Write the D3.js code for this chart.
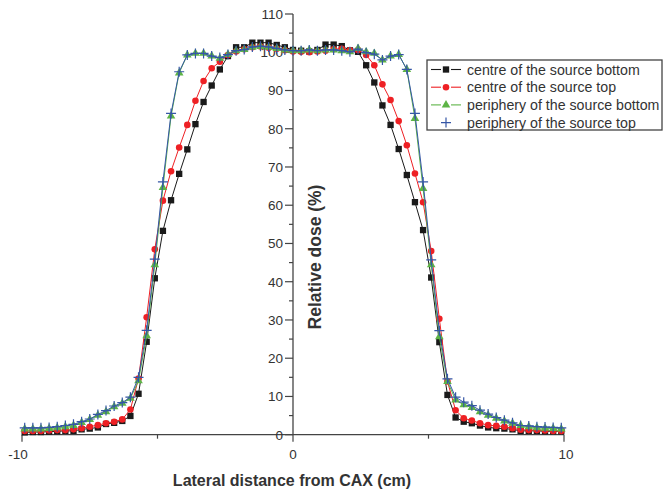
<!DOCTYPE html>
<html>
<head>
<meta charset="utf-8">
<script src="https://cdn.jsdelivr.net/npm/d3@7"></script>
<style>
  body { margin: 0; background: #fff; }
  text { font-family: "Liberation Sans", Arial, sans-serif; fill: #333; }
</style>
</head>
<body>
<script>
// lateral positions: every 0.3 cm from -9.9 to 9.9
const positions = d3.range(-33, 34).map(k => +(k * 0.3).toFixed(1));

const centreBottom = [
  0.6, 0.7, 0.7, 0.8, 0.9, 1.0, 1.0, 1.4, 1.6, 1.9, 2.8, 3.1, 3.6, 4.9, 10.7, 24.3, 40.9,
  53.3, 61.3, 68.2, 74.6, 81.2, 87.0, 91.3, 95.5, 99.0, 101.3, 101.3, 102.5, 102.5, 102.5, 101.9, 101.3,
  100.6,
  100.4, 100.2, 100.6, 102.0, 102.0, 101.6, 100.5, 100.1, 96.6, 92.1, 86.1, 81.0, 74.7, 67.9, 60.8, 53.5,
  41.1, 24.2, 10.4, 4.5, 3.4, 3.0, 2.4, 1.9, 1.7, 1.6, 1.4, 1.0, 1.0, 1.0, 0.9, 0.9, 0.9
];

const centreTop = [
  1.0, 1.0, 1.0, 1.1, 1.2, 1.2, 1.4, 1.7, 2.1, 2.5, 3.0, 3.4, 4.0, 6.6, 14.7, 30.7, 48.5,
  61.2, 68.9, 75.1, 81.0, 87.3, 92.5, 95.8, 97.5, 99.3, 100.2, 100.8, 101.3, 101.5, 101.2, 100.9, 100.5,
  100.2,
  100.1, 100.0, 100.2, 100.4, 100.8, 100.9, 100.5, 100.6, 99.3, 96.6, 91.6, 87.5, 82.0, 75.7, 68.3, 60.8,
  48.0, 30.3, 13.9, 6.4, 4.3, 3.7, 3.0, 2.5, 2.3, 2.1, 1.7, 1.3, 1.2, 1.2, 1.1, 1.0, 1.0
];

const peripheryBottom = [
  1.5, 1.5, 1.5, 1.6, 1.8, 2.1, 2.4, 3.2, 4.0, 5.1, 6.0, 7.3, 8.2, 9.5, 14.1, 25.9, 44.4,
  64.6, 83.3, 94.6, 99.3, 99.7, 99.7, 99.0, 98.4, 99.4, 100.4, 100.7, 101.3, 101.5, 101.3, 101.0, 100.6,
  100.4,
  100.4, 100.6, 100.4, 100.6, 100.6, 100.4, 100.1, 101.0, 100.1, 99.7, 98.0, 99.0, 99.4, 95.5, 82.7, 64.4,
  44.4, 25.6, 13.9, 9.1, 7.8, 7.1, 6.0, 5.1, 4.3, 3.6, 3.0, 2.4, 2.1, 1.8, 1.7, 1.6, 1.5
];

const peripheryTop = [
  1.8, 1.8, 1.8, 1.9, 2.1, 2.4, 2.7, 3.4, 4.1, 5.3, 6.3, 7.5, 8.4, 9.8, 15.0, 27.3, 45.9,
  66.1, 84.0, 94.9, 99.3, 99.7, 99.7, 99.0, 98.6, 99.4, 100.4, 100.7, 101.4, 101.6, 101.4, 101.0, 100.6,
  100.4,
  100.4, 100.6, 100.4, 100.6, 100.6, 100.4, 100.1, 100.8, 99.9, 99.5, 98.0, 99.0, 99.4, 95.5, 84.0, 66.1,
  45.7, 27.2, 14.6, 9.8, 8.5, 7.6, 6.4, 5.4, 4.5, 3.8, 3.1, 2.4, 2.3, 2.1, 2.0, 1.9, 1.8
];

const seriesNames = [
  "centre of the source bottom",
  "centre of the source top",
  "periphery of the source bottom",
  "periphery of the source top"
];

const xTicks = [-10, 0, 10];
const yTicks = [0, 10, 20, 30, 40, 50, 60, 70, 80, 90, 100, 110];

const width = 667, height = 493;

const svg = d3.select("body").append("svg")
  .attr("width", width)
  .attr("height", height);

const x = d3.scaleLinear().domain([-10, 10]).range([22, 564]);
const y = d3.scaleLinear().domain([0, 110]).range([434.7, 14]);

const styles = [
  { color: "#1a1a1a", symbol: d3.symbolSquare, size: 40 },
  { color: "#ee2024", symbol: d3.symbolCircle, size: 34 },
  { color: "#5db446", symbol: d3.symbolTriangle, size: 32 },
  { color: "#3556a6", symbol: "plus", size: 0 }
];

const allSeries = [centreBottom, centreTop, peripheryBottom, peripheryTop];

// axes
const axisColor = "#444";

// x axis along y = 0
const xAxis = svg.append("g").attr("transform", `translate(0,${y(0)})`);
xAxis.append("line")
  .attr("x1", x(-10)).attr("x2", x(10))
  .attr("stroke", axisColor).attr("stroke-width", 1.3);
xAxis.selectAll(".major").data(xTicks).enter().append("line")
  .attr("x1", d => x(d)).attr("x2", d => x(d))
  .attr("y1", 0).attr("y2", 7)
  .attr("stroke", axisColor).attr("stroke-width", 1.2);
xAxis.selectAll(".minor").data([-5, 5]).enter().append("line")
  .attr("x1", d => x(d)).attr("x2", d => x(d))
  .attr("y1", 0).attr("y2", 4)
  .attr("stroke", axisColor).attr("stroke-width", 1.2);
xAxis.selectAll("text").data(xTicks).enter().append("text")
  .attr("x", d => x(d) + (d < 0 ? -4 : d > 0 ? 2 : 0))
  .attr("y", 24)
  .attr("text-anchor", "middle")
  .attr("font-size", 13.5)
  .text(d => d);

// y axis along x = 0
const yAxis = svg.append("g").attr("transform", `translate(${x(0)},0)`);
yAxis.append("line")
  .attr("y1", y(0)).attr("y2", y(110))
  .attr("stroke", axisColor).attr("stroke-width", 1.3);
yAxis.selectAll(".major").data(yTicks).enter().append("line")
  .attr("x1", -8).attr("x2", 0)
  .attr("y1", d => y(d)).attr("y2", d => y(d))
  .attr("stroke", axisColor).attr("stroke-width", 1.2);
yAxis.selectAll(".minor").data(d3.range(5, 110, 10)).enter().append("line")
  .attr("x1", -4).attr("x2", 0)
  .attr("y1", d => y(d)).attr("y2", d => y(d))
  .attr("stroke", axisColor).attr("stroke-width", 1.2);
yAxis.selectAll("text").data(yTicks).enter().append("text")
  .attr("x", -10)
  .attr("y", d => y(d))
  .attr("dy", "0.36em")
  .attr("text-anchor", "end")
  .attr("font-size", 13.5)
  .text(d => d);

// axis titles
svg.append("text")
  .attr("x", 292)
  .attr("y", 486)
  .attr("text-anchor", "middle")
  .attr("font-size", 16)
  .attr("font-weight", "bold")
  .attr("fill", "#222")
  .text("Lateral distance from CAX (cm)");

svg.append("text")
  .attr("transform", `translate(321,257) rotate(-90)`)
  .attr("text-anchor", "middle")
  .attr("font-size", 17.5)
  .attr("font-weight", "bold")
  .attr("fill", "#222")
  .text("Relative dose (%)");

// marker helper
function drawMarker(g, st) {
  if (st.symbol === "plus") {
    g.append("path")
      .attr("d", "M-5,0H5M0,-5V5")
      .attr("stroke", st.color)
      .attr("stroke-width", 1.2)
      .attr("fill", "none");
  } else {
    g.append("path")
      .attr("d", d3.symbol().type(st.symbol).size(st.size)())
      .attr("fill", st.color);
  }
}

const line = d3.line()
  .x((d, i) => x(positions[i]))
  .y(d => y(d));

allSeries.forEach((vals, s) => {
  const st = styles[s];
  const g = svg.append("g");
  g.append("path")
    .datum(vals)
    .attr("d", line)
    .attr("fill", "none")
    .attr("stroke", st.color)
    .attr("stroke-width", 1);
  g.selectAll("g.pt").data(vals).enter().append("g")
    .attr("class", "pt")
    .attr("transform", (d, i) => `translate(${x(positions[i])},${y(d)})`)
    .each(function () { drawMarker(d3.select(this), st); });
});

// legend
const legend = svg.append("g").attr("transform", "translate(427,60)");
legend.append("rect")
  .attr("width", 235).attr("height", 70)
  .attr("fill", "#fff")
  .attr("stroke", "#444")
  .attr("stroke-width", 1.3);

seriesNames.forEach((name, s) => {
  const st = styles[s];
  const row = legend.append("g").attr("transform", `translate(0,${9.5 + s * 17.7})`);
  if (s < 3) {
    row.append("line").attr("x1", 4).attr("x2", 14).attr("stroke", st.color).attr("stroke-width", 1.1);
    row.append("line").attr("x1", 24).attr("x2", 34).attr("stroke", st.color).attr("stroke-width", 1.1);
  }
  drawMarker(row.append("g").attr("transform", "translate(19,0)"), st);
  row.append("text")
    .attr("x", 40)
    .attr("dy", "0.36em")
    .attr("font-size", 14.2)
    .text(name);
});
</script>
</body>
</html>
